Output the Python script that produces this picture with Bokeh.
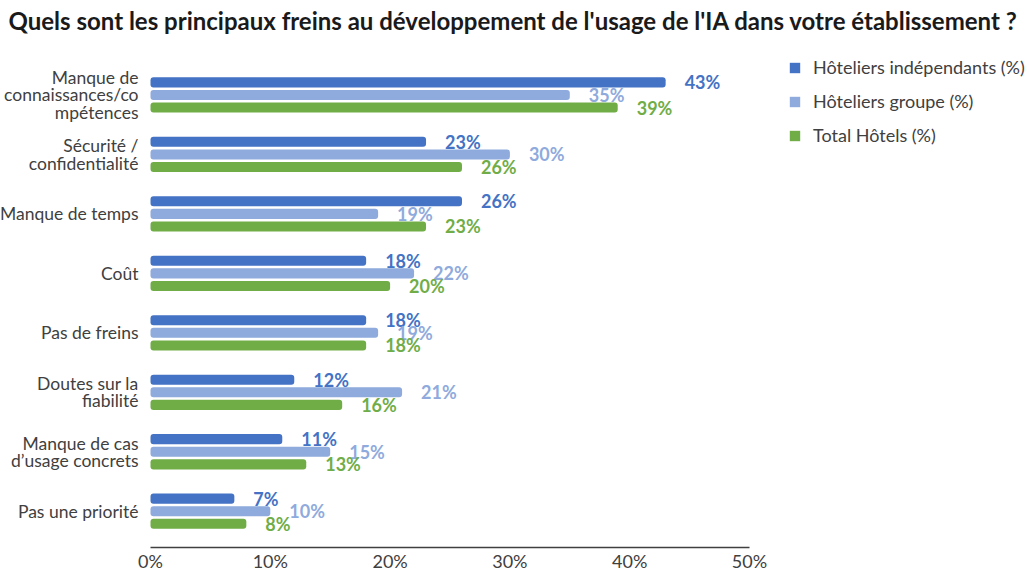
from bokeh.plotting import figure
from bokeh.models import Range1d, FixedTicker, Legend, LegendItem, ColumnDataSource
from bokeh.core.properties import value
from bokeh.embed import file_html
from bokeh.resources import INLINE

title = "Quels sont les principaux freins au développement de l'usage de l'IA dans votre établissement ?"
categories = ["Manque de\nconnaissances/co\nmpétences", "Sécurité /\nconfidentialité", "Manque de temps", "Coût",
              "Pas de freins", "Doutes sur la\nfiabilité", "Manque de cas\nd’usage concrets", "Pas une priorité"]
series_names = ["Hôteliers indépendants (%)", "Hôteliers groupe (%)", "Total Hôtels (%)"]
independants = [43, 23, 26, 18, 18, 12, 11, 7]
groupe = [35, 30, 19, 22, 19, 21, 15, 10]
total = [39, 26, 23, 20, 18, 16, 13, 8]
x_ticks = [0, 10, 20, 30, 40, 50]
x_tick_labels = ["0%", "10%", "20%", "30%", "40%", "50%"]

colors = ["#4472C4", "#8FAADC", "#70AD47"]
FONT = "Lato"

W, H = 1030, 574
# frame spans the full plot width; 0% sits at x=150, 50% at x=749
pxu = 50.0 / (749 - 150)
x_start = -150 * pxu
x_end = 50 + (W - 749) * pxu
F, B = 36.0, 543.0      # frame top / bottom in pixels
C0, STEP = 94.0, 59.0   # first category centre, category spacing in pixels
p = figure(width=W, height=H, output_backend="svg", toolbar_location=None,
           x_range=Range1d(x_start, x_end),
           y_range=Range1d(start=(B - C0) / STEP, end=(F - C0) / STEP),
           y_axis_location=None,
           min_border_left=0, min_border_right=0, min_border_top=int(F), min_border_bottom=0)
p.title.text = title
p.title.text_font = FONT
p.title.text_font_size = "24px"
p.title.text_font_style = "bold"
p.title.text_color = "#1a1a1a"
p.title.align = "left"
p.title.offset = 8
p.title.standoff = 4

p.outline_line_color = None
p.xgrid.visible = False
p.ygrid.visible = False

# category labels
ysrc = ColumnDataSource(dict(y=list(range(len(categories))), x=[0] * len(categories), t=categories))
p.text(x="x", y="y", text="t", source=ysrc, x_offset=-12, text_align="right", text_baseline="middle",
       text_font=value(FONT), text_font_size="17.5px", text_color="#404040", text_line_height=0.83)

bar_h = 10.0 / STEP
offsets = [-12.5 / STEP, 0.0, 12.5 / STEP]
items = []
for vals, name, col, off in zip([independants, groupe, total], series_names, colors, offsets):
    ys = [i + off for i in range(len(categories))]
    src = ColumnDataSource(dict(y=ys, x=vals, lab=[f"{v}%" for v in vals]))
    r = p.hbar(y="y", right="x", left=0, height=bar_h, source=src, fill_color=col, line_color=None,
               border_radius=3)
    p.text(x="x", y="y", text="lab", source=src, x_offset=19, text_baseline="middle", text_align="left",
           text_font=value(FONT), text_font_size="18px", text_font_style="bold", text_color=col)
    items.append(LegendItem(label=name, renderers=[r]))

legend = Legend(items=items, location=(788, int(B - 142)), label_text_font=FONT, label_text_font_size="18px",
                label_text_color="#404040", glyph_width=13, glyph_height=13, label_standoff=12,
                spacing=12, padding=0, margin=0, border_line_color=None, background_fill_alpha=0)
p.add_layout(legend, "center")

p.xaxis.ticker = FixedTicker(ticks=x_ticks)
p.xaxis.bounds = (x_ticks[0], x_ticks[-1])
p.xaxis.major_label_overrides = {t: l for t, l in zip(x_ticks, x_tick_labels)}
p.xaxis.major_tick_line_color = None
p.xaxis.minor_tick_line_color = None
p.xaxis.major_tick_out = 0
p.xaxis.major_tick_in = 0
p.xaxis.axis_line_color = "#404040"
p.xaxis.axis_line_width = 1.3
p.xaxis.major_label_standoff = 2
p.xaxis.major_label_text_font = FONT
p.xaxis.major_label_text_font_size = "18px"
p.xaxis.major_label_text_color = "#404040"

open("out.html", "w").write(file_html(p, INLINE))
